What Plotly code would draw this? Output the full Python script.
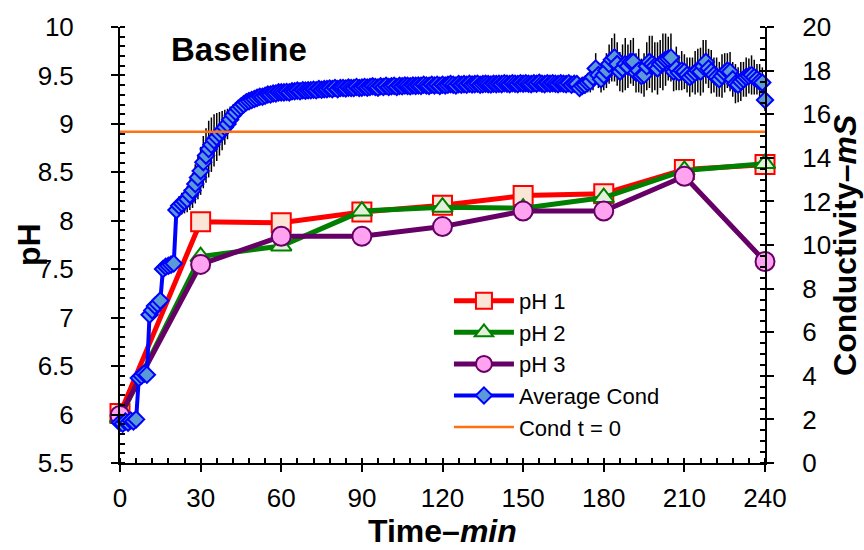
import plotly.graph_objects as go

# ---------------- data ----------------
ph_time = [0, 30, 60, 90, 120, 150, 180, 210, 240]
ph1 = [6.01, 7.99, 7.98, 8.09, 8.16, 8.26, 8.28, 8.53, 8.58]
ph2 = [5.97, 7.63, 7.74, 8.10, 8.14, 8.13, 8.24, 8.52, 8.59]
ph3 = [5.99, 7.55, 7.84, 7.84, 7.94, 8.10, 8.10, 8.46, 7.58]

cond_time = [
    0, 1, 2, 3, 4, 5, 6, 7, 8, 9, 10, 11, 12, 13, 14, 15, 16, 17, 18, 19,
    20, 21, 22, 23, 24, 25, 26, 27, 28, 29, 30, 31, 32, 33, 34, 35, 36, 37, 38, 39,
    40, 41, 42, 43, 44, 45, 46, 47, 48, 49, 50, 51, 52, 53, 54, 55, 56, 57, 58, 59,
    60, 61, 62, 63, 64, 65, 66, 67, 68, 69, 70, 71, 72, 73, 74, 75, 76, 77, 78, 79,
    80, 81, 82, 83, 84, 85, 86, 87, 88, 89, 90, 91, 92, 93, 94, 95, 96, 97, 98, 99,
    100, 101, 102, 103, 104, 105, 106, 107, 108, 109, 110, 111, 112, 113, 114, 115, 116, 117, 118, 119,
    120, 121, 122, 123, 124, 125, 126, 127, 128, 129, 130, 131, 132, 133, 134, 135, 136, 137, 138, 139,
    140, 141, 142, 143, 144, 145, 146, 147, 148, 149, 150, 151, 152, 153, 154, 155, 156, 157, 158, 159,
    160, 161, 162, 163, 164, 165, 166, 167, 168, 169, 170, 171, 172, 173, 174, 175, 176, 177, 178, 179,
    180, 181, 182, 183, 184, 185, 186, 187, 188, 189, 190, 191, 192, 193, 194, 195, 196, 197, 198, 199,
    200, 201, 202, 203, 204, 205, 206, 207, 208, 209, 210, 211, 212, 213, 214, 215, 216, 217, 218, 219,
    220, 221, 222, 223, 224, 225, 226, 227, 228, 229, 230, 231, 232, 233, 234, 235, 236, 237, 238, 239,
    240,
]

avg_cond = [
    1.85, 1.80, 1.90, 1.85, 1.95, 1.90, 2.00, 3.90, 4.00, 4.10, 4.05,
    6.80, 7.00, 7.20, 7.30, 7.45, 8.90, 9.00, 9.05, 9.10, 9.15,
    11.60, 11.80, 11.90, 12.00, 12.10, 12.30, 12.50, 12.80, 13.10, 13.40,
    13.80, 14.10, 14.40, 14.60, 14.80, 14.95, 15.10, 15.25, 15.40, 15.55,
    15.75, 15.95, 16.10, 16.25, 16.35, 16.45, 16.55, 16.60, 16.65, 16.70,
    16.75, 16.80, 16.80, 16.85, 16.90, 16.90, 16.95, 16.95, 17.00, 17.00,
    17.00, 17.02, 17.00, 17.05, 17.05, 17.08, 17.05, 17.10, 17.08, 17.10,
    17.10, 17.12, 17.10, 17.15, 17.12, 17.15, 17.15, 17.18, 17.15, 17.20,
    17.15, 17.20, 17.20, 17.18, 17.22, 17.20, 17.20, 17.25, 17.20, 17.22,
    17.25, 17.22, 17.25, 17.28, 17.25, 17.22, 17.28, 17.25, 17.30, 17.25,
    17.28, 17.30, 17.25, 17.30, 17.28, 17.32, 17.30, 17.28, 17.32, 17.30,
    17.32, 17.30, 17.35, 17.32, 17.30, 17.35, 17.32, 17.35, 17.30, 17.35,
    17.32, 17.35, 17.38, 17.35, 17.32, 17.38, 17.35, 17.38, 17.35, 17.40,
    17.36, 17.38, 17.40, 17.35, 17.38, 17.40, 17.38, 17.36, 17.40, 17.38,
    17.40, 17.38, 17.42, 17.40, 17.38, 17.42, 17.40, 17.38, 17.42, 17.40,
    17.42, 17.40, 17.38, 17.42, 17.40, 17.44, 17.40, 17.38, 17.42, 17.40,
    17.42, 17.40, 17.38, 17.42, 17.40, 17.38, 17.42, 17.35, 17.40, 17.38,
    17.20, 17.30, 17.35, 17.45, 17.50, 17.70, 18.10, 17.80, 17.60, 17.80,
    18.00, 18.30, 18.50, 18.60, 18.30, 17.95, 18.10, 18.30, 18.20, 18.40,
    18.40, 17.90, 18.00, 17.75, 17.80, 18.20, 18.40, 18.30, 18.20, 18.10,
    18.30, 18.40, 18.50, 18.55, 18.60, 17.95, 18.10, 17.90, 18.00, 17.95,
    17.80, 17.70, 17.80, 17.90, 18.00, 17.95, 18.20, 18.40, 18.10, 17.95,
    17.80, 17.70, 17.60, 17.75, 17.90, 18.00, 17.95, 17.60, 17.40, 17.35,
    17.50, 17.60, 17.70, 17.75, 17.80, 17.70, 17.60, 17.50, 17.45, 16.65,
]

cond_err = [
    0.35, 0.35, 0.35, 0.35, 0.35, 0.35, 0.35, 0.30, 0.30, 0.30, 0.30,
    0.25, 0.25, 0.25, 0.25, 0.25, 0.25, 0.25, 0.25, 0.25, 0.25,
    0.40, 0.45, 0.50, 0.55, 0.60, 0.70, 0.80, 0.90, 1.00, 1.10,
    1.20, 1.25, 1.30, 1.25, 1.20, 1.10, 1.00, 0.90, 0.80, 0.70,
    0.60, 0.50, 0.45, 0.40, 0.35, 0.30, 0.30, 0.25, 0.25, 0.25,
    0.20, 0.20, 0.20, 0.20, 0.20, 0.20, 0.20, 0.20, 0.20, 0.20,
    0.20, 0.20, 0.20, 0.20, 0.20, 0.20, 0.20, 0.20, 0.20, 0.20,
    0.20, 0.20, 0.20, 0.20, 0.20, 0.20, 0.20, 0.20, 0.20, 0.20,
    0.20, 0.20, 0.20, 0.20, 0.20, 0.20, 0.20, 0.20, 0.20, 0.20,
    0.20, 0.20, 0.20, 0.20, 0.20, 0.20, 0.20, 0.20, 0.20, 0.20,
    0.20, 0.20, 0.20, 0.20, 0.20, 0.20, 0.20, 0.20, 0.20, 0.20,
    0.20, 0.20, 0.20, 0.20, 0.20, 0.20, 0.20, 0.20, 0.20, 0.20,
    0.20, 0.20, 0.20, 0.20, 0.20, 0.20, 0.20, 0.20, 0.20, 0.20,
    0.20, 0.20, 0.20, 0.20, 0.20, 0.20, 0.20, 0.20, 0.20, 0.20,
    0.20, 0.20, 0.20, 0.20, 0.20, 0.20, 0.20, 0.20, 0.20, 0.20,
    0.20, 0.20, 0.20, 0.20, 0.20, 0.20, 0.20, 0.20, 0.20, 0.20,
    0.20, 0.20, 0.20, 0.20, 0.20, 0.20, 0.20, 0.20, 0.20, 0.20,
    0.30, 0.35, 0.40, 0.45, 0.50, 0.60, 0.70, 0.60, 0.60, 0.70,
    0.80, 0.90, 1.00, 1.10, 1.00, 0.90, 1.10, 1.20, 1.00, 1.00,
    1.10, 0.90, 1.00, 0.80, 1.00, 1.10, 1.20, 1.30, 1.10, 1.20,
    1.10, 1.30, 1.20, 1.00, 1.10, 0.90, 1.00, 0.80, 0.90, 0.80,
    0.80, 0.90, 0.80, 1.00, 1.00, 1.10, 1.20, 1.00, 0.90, 1.00,
    0.80, 0.90, 0.80, 1.00, 0.90, 0.80, 0.90, 0.80, 0.90, 0.80,
    0.90, 0.80, 0.90, 0.80, 0.90, 0.80, 0.70, 0.80, 0.70, 0.50,
]

cond_t0_time = [0, 240]
cond_t0 = [15.2, 15.2]

x_ticks = [0, 30, 60, 90, 120, 150, 180, 210, 240]

# ---------------- figure ----------------
FONT = "Liberation Sans, Arial, sans-serif"
TICKF = dict(family=FONT, size=26, color="black")

fig = go.Figure()

fig.add_trace(go.Scatter(
    x=ph_time, y=ph1, name="pH 1", mode="lines+markers", cliponaxis=False,
    line=dict(color="#FF0000", width=5),
    marker=dict(symbol="square", size=19, color="#FBE5D6",
                line=dict(color="#FF0000", width=2)),
    xaxis="x", yaxis="y"))
fig.add_trace(go.Scatter(
    x=ph_time, y=ph2, name="pH 2", mode="lines+markers", cliponaxis=False,
    line=dict(color="#008000", width=5),
    marker=dict(symbol="triangle-up", size=18, color="#E2F0D9",
                line=dict(color="#008000", width=2)),
    xaxis="x", yaxis="y"))
fig.add_trace(go.Scatter(
    x=ph_time, y=ph3, name="pH 3", mode="lines+markers", cliponaxis=False,
    line=dict(color="#660066", width=5),
    marker=dict(symbol="circle", size=19, color="#FFA3F1",
                line=dict(color="#660066", width=2)),
    xaxis="x", yaxis="y"))
fig.add_trace(go.Scatter(
    x=cond_time, y=avg_cond, name="Average Cond", mode="lines+markers",
    cliponaxis=False,
    line=dict(color="#0000FF", width=4),
    marker=dict(symbol="diamond", size=12.5, color="#5B9BD5",
                line=dict(color="#0000FF", width=2)),
    error_y=dict(type="data", array=cond_err, visible=True, color="black",
                 thickness=1.5, width=0),
    xaxis="x", yaxis="y2"))
fig.add_trace(go.Scatter(
    x=cond_t0_time, y=cond_t0, name="Cond t = 0", mode="lines",
    line=dict(color="#FF7010", width=2.5),
    xaxis="x", yaxis="y2"))

common = dict(showgrid=False, zeroline=False, tickcolor="black",
              tickwidth=2, ticklen=7, tickfont=TICKF, linecolor="black",
              linewidth=2)

fig.update_layout(
    width=864, height=550,
    margin=dict(l=120, r=99, t=23, b=87),
    paper_bgcolor="white", plot_bgcolor="white",
    font=dict(family=FONT, color="black"),
    xaxis=dict(range=[0, 240], tickvals=x_ticks, ticks="outside",
               showline=True, ticklabelstandoff=4,
               minor=dict(ticks="inside", dtick=6, ticklen=5,
                          tickwidth=1.5, tickcolor="black"),
               **common),
    xaxis2=dict(range=[0, 240], tickvals=x_ticks, ticks="inside",
                overlaying="x", anchor="y", showline=False,
                showticklabels=False, showgrid=False, zeroline=False,
                tickcolor="black", tickwidth=2, ticklen=7),
    yaxis=dict(range=[5.5, 10], dtick=0.5, ticks="outside", showline=True,
               ticklabelstandoff=32,
               minor=dict(ticks="inside", dtick=0.1, ticklen=5,
                          tickwidth=1.5, tickcolor="black"),
               **common),
    yaxis3=dict(range=[5.5, 10], dtick=0.5, ticks="inside", overlaying="y",
                anchor="x", showline=False, showticklabels=False,
                showgrid=False, zeroline=False, tickcolor="black",
                tickwidth=2, ticklen=7),
    yaxis2=dict(range=[0, 20], dtick=2, ticks="outside", side="right",
                overlaying="y", anchor="x", showline=True,
                ticklabelstandoff=23,
                minor=dict(ticks="inside", dtick=0.5, ticklen=5,
                           tickwidth=1.5, tickcolor="black"),
                **common),
    yaxis4=dict(range=[0, 20], dtick=2, ticks="inside", side="right",
                overlaying="y", anchor="x", showline=False,
                showticklabels=False, showgrid=False, zeroline=False,
                tickcolor="black", tickwidth=2, ticklen=7),
    legend=dict(x=0.51, y=0.42, xanchor="left", yanchor="top",
                bgcolor="rgba(0,0,0,0)", font=dict(family=FONT, size=22),
                itemwidth=60, tracegroupgap=0),
    showlegend=True,
)

ann = [
    dict(text="<b>Baseline</b>", x=0.185, y=0.948, xref="paper", yref="paper",
         showarrow=False, font=dict(family=FONT, size=33, color="black"),
         xanchor="center", yanchor="middle"),
    dict(text="<b>Time–<i>min</i></b>", x=0.5, y=-0.155, xref="paper",
         yref="paper", showarrow=False,
         font=dict(family=FONT, size=32, color="black"),
         xanchor="center", yanchor="middle"),
    dict(text="<b>pH</b>", x=-0.141, y=0.5, xref="paper", yref="paper",
         showarrow=False, textangle=-90,
         font=dict(family=FONT, size=32, color="black"),
         xanchor="center", yanchor="middle"),
    dict(text="<b>Conductivity–<i>mS</i></b>", x=1.124, y=0.5, xref="paper",
         yref="paper", showarrow=False, textangle=-90,
         font=dict(family=FONT, size=32, color="black"),
         xanchor="center", yanchor="middle"),
]
fig.update_layout(annotations=ann)

fig.write_html("out.html")
